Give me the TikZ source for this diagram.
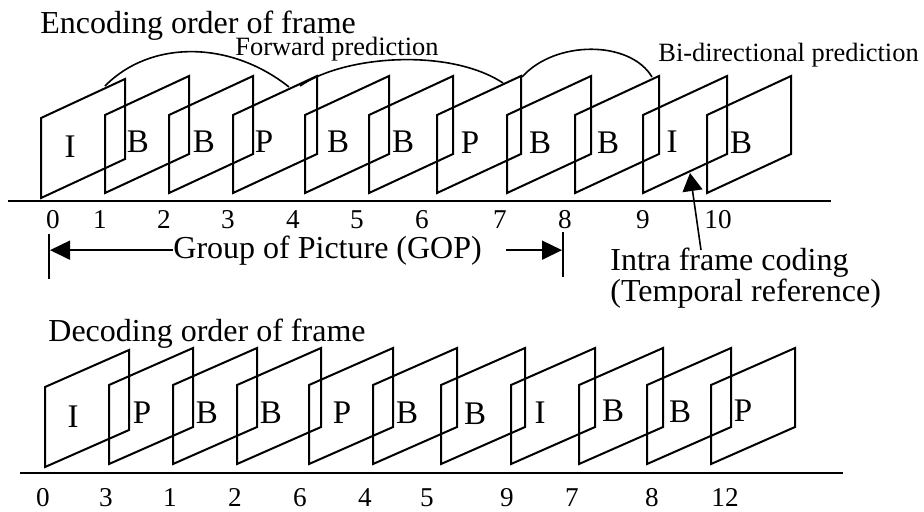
\documentclass[tikz,border=0pt]{standalone}
\usepackage{fontspec}
\setmainfont{Liberation Serif}
\usetikzlibrary{
  arrows.meta,
  calc
}

\begin{document}
\begin{tikzpicture}[
  x=0.5pt, y=-0.5pt,
  font=\fontsize{16}{18}\selectfont,
  frm/.style={draw=black, line width=1pt, line join=miter},
  lbl/.style={anchor=base, inner sep=0pt, font=\fontsize{16.5}{18}\selectfont},
  num/.style={anchor=base, inner sep=0pt, font=\fontsize{13.6}{16}\selectfont},
  ttl/.style={anchor=base west, inner sep=0pt},
  note/.style={anchor=base west, inner sep=0pt, font=\fontsize{13.2}{15}\selectfont},
  axis/.style={line width=1pt},
  arc/.style={line width=0.8pt},
  arr/.style={-{Triangle[length=10pt,width=9.5pt]}, line width=0.8pt},
]
  \useasboundingbox (0,0) rectangle (924,511);

  % encoding order
  \node[ttl] (enc) at (40,33) {Encoding order of frame};
  \foreach \x/\y/\h/\lx/\ly/\l [count=\i] in {
      41/198/80/70/157/I, 105/193/78/138/152/B, 169/193/78/204/152/B,
      233/193/78/264/152/P, 305/193/78/338/152/B, 369/193/78/403/152/B,
      437/193/78/470/153/P, 507/193/78/540/153/B, 575/193/78/608/153/B,
      643/193/78/672/152/I, 707/193/78/741/153/B} {
    \draw[frm] (\x,\y) -- ++(0,-\h) -- ++(84,-39) -- ++(0,\h) -- cycle;
    \node[lbl] (ef\i) at (\lx,\ly) {\l};
  }
  \draw[axis] (8,201) -- (831,201);
  \foreach \x/\n [count=\i] in {
      53/0, 100/1, 164/2, 228/3, 293/4, 357/5,
      422/6, 500/7, 565/8, 643/9, 718/10} {
    \node[num] (et\i) at (\x,228) {\n};
  }

  % prediction arcs
  \coordinate (a1) at (105,86);  \coordinate (b1) at (289,87);
  \coordinate (a2) at (300,86);  \coordinate (b2) at (503,83);
  \coordinate (a3) at (522,77);  \coordinate (b3) at (652,77);
  \draw[arc] (a1) .. controls (150,40) and (230,40) .. (b1);
  \draw[arc] (a2) .. controls (345,55) and (450,48) .. (b2);
  \draw[arc] (a3) .. controls (555,40) and (630,40) .. (b3);
  \node[note] (fwd) at (235,55) {Forward prediction};
  \node[note] (bid) at (658,61) {Bi-directional prediction};

  % GOP
  \draw[axis] (49,234) -- (49,279);
  \draw[axis] (563,232) -- (563,277);
  \coordinate (barL) at (50,248);
  \coordinate (barR) at (562,248);
  \node[ttl] (gop) at (173,258) {Group of Picture (GOP)};
  \draw[arr] (gop.west) -- (gop.west -| barL);
  \draw[arr] ([xshift=12pt]gop.east) -- (gop.east -| barR);

  % intra frame
  \node[anchor=north west, inner sep=0pt, align=left,
        font=\fontsize{16}{15.5}\selectfont] (intra) at (610,248)
    {Intra frame coding\\(Temporal reference)};
  \coordinate (itip) at (690,173);
  \draw[arr, -{Triangle[length=9pt,width=10pt]}]
    ($(intra.north west)+(91,2)$) -- (itip);

  % decoding order
  \node[ttl] (dec) at (48,341) {Decoding order of frame};
  \foreach \x/\y/\h/\lx/\ly/\l [count=\i] in {
      45/467/80/73/427/I, 109/464/79/142/423/P, 173/464/79/207/423/B,
      237/464/79/271/423/B, 309/464/79/342/423/P, 373/464/79/407/423/B,
      441/464/79/475/424/B, 511/464/79/540/423/I, 579/464/79/613/421/B,
      647/464/79/680/422/B, 711/464/79/743/421/P} {
    \draw[frm] (\x,\y) -- ++(0,-\h) -- ++(84,-37) -- ++(0,\h) -- cycle;
    \node[lbl] (df\i) at (\lx,\ly) {\l};
  }
  \draw[axis] (20,473) -- (843,473);
  \foreach \x/\n [count=\i] in {
      43/0, 106/3, 170/1, 235/2, 300/6, 365/4,
      427/5, 507/9, 572/7, 652/8, 725/12} {
    \node[num] (dt\i) at (\x,506) {\n};
  }
\end{tikzpicture}
\end{document}
